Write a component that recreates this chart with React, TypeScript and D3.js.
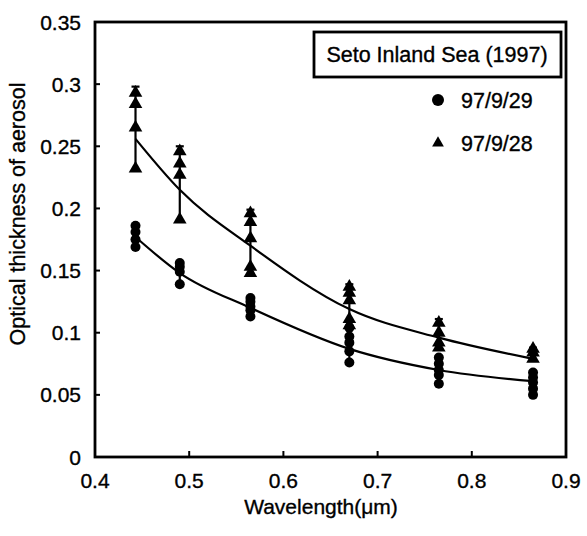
import React from "react";
import * as d3 from "d3";

const wavelengths = [0.443, 0.49, 0.565, 0.67, 0.765, 0.865];
const circleObs = [
  [0.169, 0.175, 0.181, 0.186],
  [0.139, 0.149, 0.153, 0.156],
  [0.113, 0.118, 0.121, 0.125, 0.128],
  [0.076, 0.085, 0.092, 0.097, 0.104],
  [0.059, 0.066, 0.07, 0.075, 0.08],
  [0.05, 0.055, 0.06, 0.064, 0.068],
];
const triangleObs = [
  [0.232, 0.265, 0.284, 0.293],
  [0.191, 0.227, 0.236, 0.246],
  [0.148, 0.153, 0.176, 0.189, 0.196],
  [0.106, 0.111, 0.126, 0.132, 0.137],
  [0.088, 0.092, 0.1, 0.108],
  [0.079, 0.084, 0.087],
];
const triangleErrTop = [0.298, 0.25, 0.199, 0.139, 0.111, 0.088];
const circleFit = [0.177, 0.148, 0.12, 0.087, 0.07, 0.061];
const triangleFit = [0.256, 0.215, 0.17, 0.119, 0.096, 0.079];
const xTicks = [0.4, 0.5, 0.6, 0.7, 0.8, 0.9];
const yTicks = [0, 0.05, 0.1, 0.15, 0.2, 0.25, 0.3, 0.35];
const legendTitle = "Seto Inland Sea (1997)";
const seriesNames = ["97/9/29", "97/9/28"];

const W = 587;
const H = 536;
const left = 95, right = 566, top = 22, bottom = 457;
const FONT = "'Liberation Sans', Arial, sans-serif";

export default function App() {
  const x = d3.scaleLinear().domain([0.4, 0.9]).range([left, right]);
  const y = d3.scaleLinear().domain([0, 0.35]).range([bottom, top]);
  const line = d3
    .line<number>()
    .x((_, i) => x(wavelengths[i]))
    .y((d) => y(d))
    .curve(d3.curveMonotoneX);
  const tri = d3.symbol().type(d3.symbolTriangle).size(80)();
  const triLeg = d3.symbol().type(d3.symbolTriangle).size(60)();
  const txt = { fill: "#000", stroke: "#000", strokeWidth: 0.35 };

  return (
    <svg width={W} height={H} style={{ position: "absolute", left: 0, top: 0, background: "#fff" }} fontFamily={FONT}>
      <rect x={0} y={0} width={W} height={H} fill="#fff" />
      <path d={line(circleFit) || ""} fill="none" stroke="#000" strokeWidth={2.2} />
      <path d={line(triangleFit) || ""} fill="none" stroke="#000" strokeWidth={2.2} />
      {wavelengths.map((w, i) => {
        const cx = x(w);
        const cMin = d3.min(circleObs[i])!;
        const cMax = d3.max(circleObs[i])!;
        const tMin = d3.min(triangleObs[i])!;
        return (
          <g key={i}>
            <line x1={cx} x2={cx} y1={y(cMin)} y2={y(cMax)} stroke="#000" strokeWidth={2.2} />
            <line x1={cx} x2={cx} y1={y(tMin)} y2={y(triangleErrTop[i])} stroke="#000" strokeWidth={2.2} />
            <line x1={cx - 4} x2={cx + 4} y1={y(triangleErrTop[i])} y2={y(triangleErrTop[i])} stroke="#000" strokeWidth={2.2} />
            {circleObs[i].map((v, j) => (
              <circle key={"c" + j} cx={cx} cy={y(v)} r={5} fill="#000" />
            ))}
            {triangleObs[i].map((v, j) => (
              <path key={"t" + j} d={tri || ""} transform={`translate(${cx},${y(v)})`} fill="#000" />
            ))}
          </g>
        );
      })}
      <rect x={left} y={top} width={right - left} height={bottom - top} fill="none" stroke="#000" strokeWidth={2.8} />
      {yTicks.map((t) => (
        <g key={"y" + t}>
          <line x1={left} x2={left + 5} y1={y(t)} y2={y(t)} stroke="#000" strokeWidth={2} />
          <text x={81} y={y(t)} dy="0.36em" textAnchor="end" fontSize={21} {...txt}>
            {String(t)}
          </text>
        </g>
      ))}
      {xTicks.map((t) => (
        <g key={"x" + t}>
          {t > 0.4 && t < 0.9 && (
            <line x1={x(t)} x2={x(t)} y1={bottom} y2={bottom - 6} stroke="#000" strokeWidth={2} />
          )}
          <text x={x(t)} y={488} textAnchor="middle" fontSize={21} {...txt}>
            {String(t)}
          </text>
        </g>
      ))}
      <text x={321} y={514} textAnchor="middle" fontSize={21} {...txt}>
        Wavelength(μm)
      </text>
      <text transform={`translate(25,${214}) rotate(-90)`} textAnchor="middle" fontSize={21.5} {...txt}>
        Optical thickness of aerosol
      </text>
      <rect x={314} y={32} width={247} height={45} fill="#fff" stroke="#000" strokeWidth={2.8} />
      <text x={437} y={62} textAnchor="middle" fontSize={21.5} {...txt}>
        {legendTitle}
      </text>
      <circle cx={438} cy={100} r={6} fill="#000" />
      <text x={461} y={108} fontSize={21.5} {...txt}>
        {seriesNames[0]}
      </text>
      <path d={triLeg || ""} transform="translate(438,143)" fill="#000" />
      <text x={461} y={151} fontSize={21.5} {...txt}>
        {seriesNames[1]}
      </text>
    </svg>
  );
}
